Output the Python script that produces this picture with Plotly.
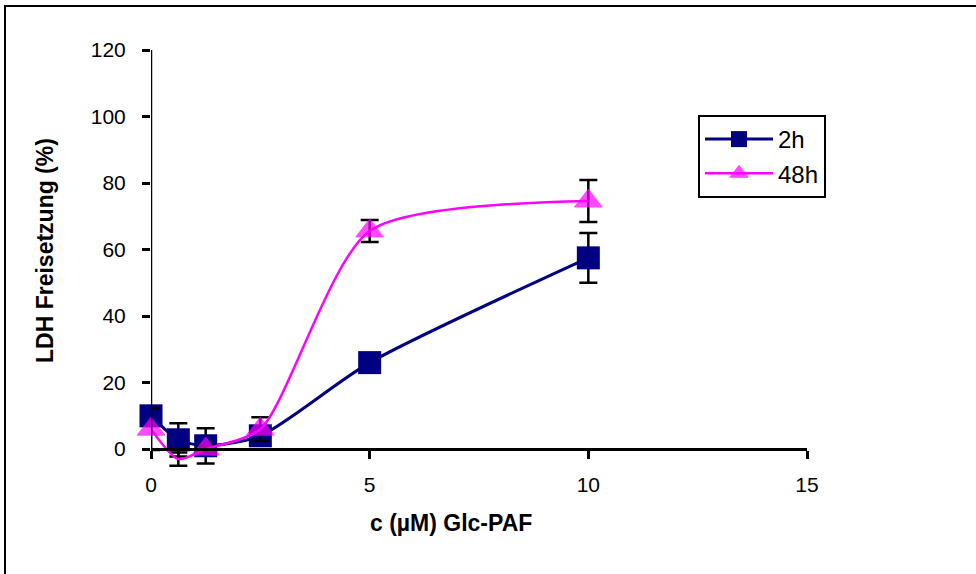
import plotly.graph_objects as go

# Glc-PAF concentration (µM)
conc = [0, 0.625, 1.25, 2.5, 5, 10]

# LDH release (%) after 2 h and 48 h, with error bars
ldh_2h = [10, 2.8, 1, 4, 26, 57.5]
err_2h = [0.5, 5, 5.3, 1, 1.5, 7.5]
ldh_48h = [6, -3, 0, 6, 65.6, 74.6]
err_48h = [6.3, 2, 1, 3.6, 3.3, 6.3]
marker_48h = [24, 0, 24, 24, 24, 24]

x_ticks = [0, 5, 10, 15]
y_ticks = [0, 20, 40, 60, 80, 100, 120]

FONT = "Arial, Liberation Sans, sans-serif"
Y_MIN = -12  # room below the x axis so dips and error bars stay visible

fig = go.Figure()

fig.add_trace(go.Scatter(
    x=conc, y=ldh_2h, name="2h", legendgroup="a", mode="lines+markers", cliponaxis=False,
    line=dict(color="#000080", width=3, shape="spline", smoothing=0.7),
    marker=dict(symbol="square", size=23, color="#000080"),
    error_y=dict(type="data", array=err_2h, color="black", thickness=2.5, width=9),
))
fig.add_trace(go.Scatter(
    x=conc, y=ldh_48h, name="48h", legendgroup="b", mode="lines+markers", cliponaxis=False,
    line=dict(color="#FF00FF", width=2.5, shape="spline", smoothing=0.7),
    marker=dict(symbol="triangle-up", size=marker_48h, color="#FF00FF",
                line=dict(color="#FF00FF", width=1)),
    error_y=dict(type="data", array=err_48h, color="black", thickness=2.5, width=9),
))

W, H = 976, 574
L, R, T = 151, 169, 50
AX_Y = 449                      # pixel row of y = 0
B = H - AX_Y - int(round(-Y_MIN * (AX_Y - T) / 120))
pw, ph = W - L - R, H - T - B

def px(x):
    return (x - L) / pw

def py(y):
    return (H - B - y) / ph

# y axis line from 0 to 120
fig.add_shape(type="line", xref="x", yref="y", x0=0, x1=0, y0=0, y1=120,
              line=dict(color="black", width=2.5))
# outer chart frame
fig.add_shape(type="rect", xref="paper", yref="paper",
              x0=px(5), x1=px(1000), y0=py(600), y1=py(6),
              line=dict(color="black", width=2), fillcolor="rgba(0,0,0,0)")

# axis titles
fig.add_annotation(text="<b>c (µM) Glc-PAF</b>", xref="paper", yref="paper",
                   x=px(451), y=py(523), xanchor="center", yanchor="middle",
                   showarrow=False, font=dict(size=23))
fig.add_annotation(text="<b>LDH Freisetzung (%)</b>", xref="paper", yref="paper",
                   x=px(45), y=py(251), xanchor="center", yanchor="middle",
                   showarrow=False, textangle=-90, font=dict(size=23))

fig.update_layout(
    width=W, height=H,
    margin=dict(l=L, r=R, t=T, b=B),
    plot_bgcolor="white", paper_bgcolor="white",
    font=dict(family=FONT, size=21, color="black"),
    showlegend=True,
    legend=dict(
        x=px(698), y=py(115), xanchor="left", yanchor="top",
        bordercolor="black", borderwidth=2, bgcolor="white",
        font=dict(size=24, family=FONT),
        tracegroupgap=0, itemwidth=68,
    ),
    xaxis=dict(
        range=[0, 15], tickvals=x_ticks, ticktext=[str(v) for v in x_ticks],
        anchor="free", position=py(AX_Y),
        showgrid=False, zeroline=False, showline=True, linecolor="black", linewidth=2.5,
        ticks="outside", ticklen=8, tickwidth=2.5, tickcolor="black",
        ticklabelstandoff=8,
    ),
    yaxis=dict(
        range=[Y_MIN, 120], tickvals=y_ticks, ticktext=[str(v) for v in y_ticks],
        showgrid=False, zeroline=False, showline=False,
        ticks="outside", ticklen=8, tickwidth=2.5, tickcolor="black",
        ticklabelstandoff=12,
    ),
)

fig.write_html("out.html")
